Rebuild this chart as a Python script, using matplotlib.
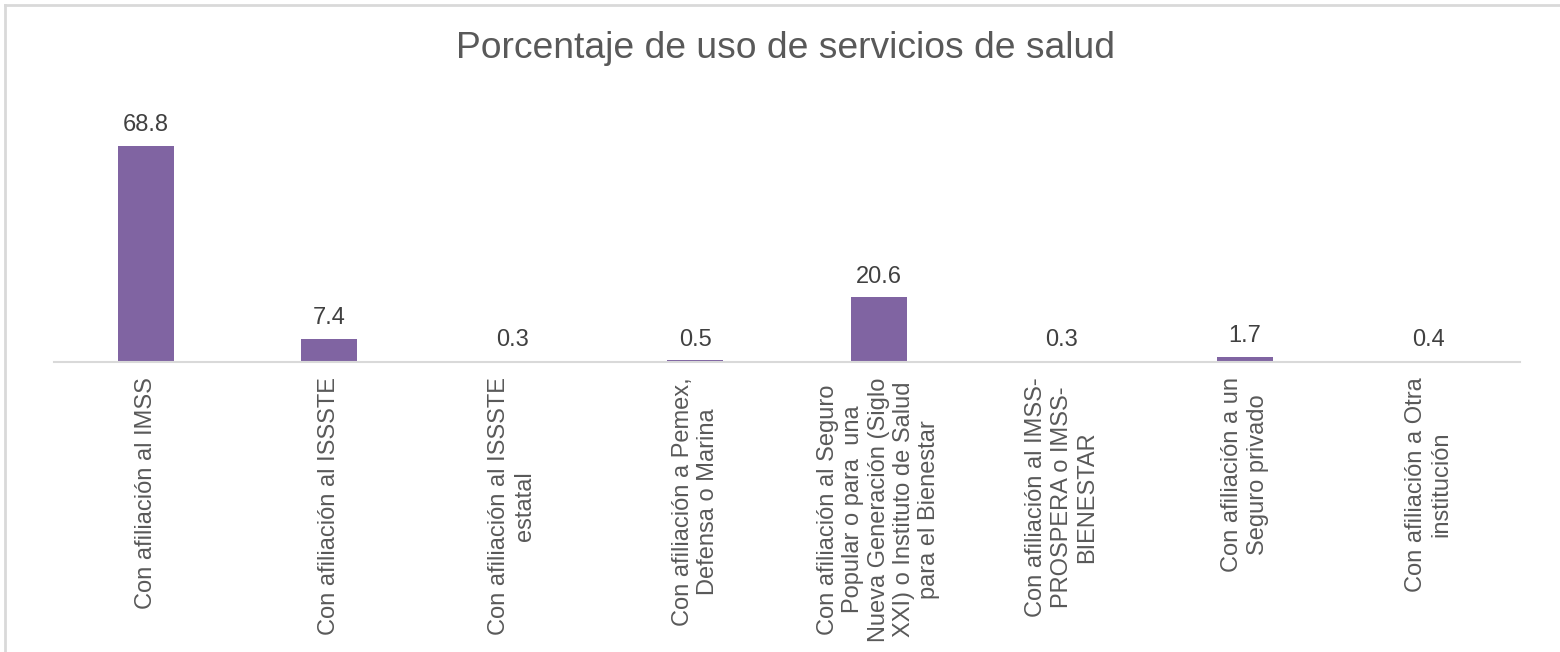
import matplotlib
matplotlib.use("Agg")
import matplotlib.pyplot as plt
from matplotlib.lines import Line2D

categories = [
    "Con afiliación al IMSS",
    "Con afiliación al ISSSTE",
    "Con afiliación al ISSSTE\nestatal",
    "Con afiliación a Pemex,\nDefensa o Marina",
    "Con afiliación al Seguro\nPopular o para  una\nNueva Generación (Siglo\nXXI) o Instituto de Salud\npara el Bienestar",
    "Con afiliación al IMSS-\nPROSPERA o IMSS-\nBIENESTAR",
    "Con afiliación a un\nSeguro privado",
    "Con afiliación a Otra\ninstitución",
]
values = [68.8, 7.4, 0.3, 0.5, 20.6, 0.3, 1.7, 0.4]
title = "Porcentaje de uso de servicios de salud"

plt.rcParams['font.family'] = ['Liberation Sans', 'DejaVu Sans']

W, H = 1560, 652
fig = plt.figure(figsize=(W / 100, H / 100), dpi=100)
fig.patch.set_facecolor('white')

ax = fig.add_axes([54 / W, 1 - 362 / H, (1520 - 54) / W, 262 / H])
x = list(range(len(values)))
bars = ax.bar(x, values, width=0.305, color='#8064A2', zorder=2)
ax.set_xlim(-0.5, len(values) - 0.5)
ax.set_ylim(0, 262 / 3.14)

for xi, v in zip(x, values):
    ax.annotate(f"{v:.1f}", (xi, v), xytext=(0, 7), textcoords='offset points',
                ha='center', va='bottom', fontsize=17, color='#404040')

ax.set_xticks(x)
ax.set_xticklabels(categories, rotation=90, ha='center', va='top',
                   multialignment='center', fontsize=17, color='#595959',
                   linespacing=1.2)
ax.tick_params(axis='x', length=0, pad=11)
ax.set_yticks([])
for s in ['top', 'right', 'left']:
    ax.spines[s].set_visible(False)
ax.spines['bottom'].set_color('#D9D9D9')
ax.spines['bottom'].set_linewidth(1.5)
ax.spines['bottom'].set_zorder(3)

fig.text(785 / W, 1 - 49 / H, title, ha='center', va='center', fontsize=26.8, color='#595959')

# chart border (top and left visible)
fig.add_artist(Line2D([5 / W, 1.0], [1 - 5 / H, 1 - 5 / H], transform=fig.transFigure,
                      color='#D9D9D9', lw=2))
fig.add_artist(Line2D([5 / W, 5 / W], [0, 1 - 5 / H], transform=fig.transFigure,
                      color='#D9D9D9', lw=2))

fig.savefig("out.png", dpi=100)
